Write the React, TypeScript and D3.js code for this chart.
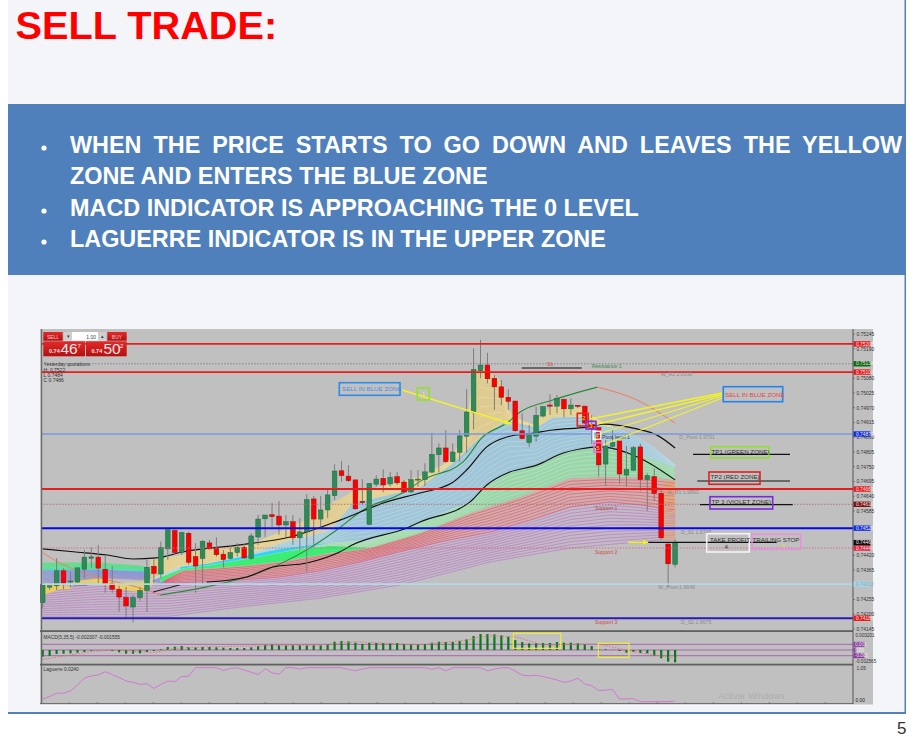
import React from "react";
import * as d3 from "d3";

// ---------- candles (prices in points, 1e-5) ----------
const high = [74316,74310,74409,74372,74359,74374,74440,74449,74459,74421,74380,74306,74301,74272,74301,74403,74405,74471,74515,74517,74508,74508,74465,74477,74477,74487,74440,74459,74465,74462,74502,74571,74570,74615,74622,74570,74570,74559,74648,74641,74641,74663,74759,74771,74756,74701,74703,74688,74719,74740,74731,74731,74701,74738,74738,74763,74877,74837,74887,74837,74887,75039,75192,75223,75175,75092,75073,75039,74995,74949,74906,74974,74974,75020,75018,75005,75005,74980,74976,74943,74896,74850,74887,74846,74827,74827,74836,74726,74744,74670,74462,74479];
const low = [74222,74291,74291,74293,74301,74316,74334,74372,74316,74280,74280,74209,74185,74170,74250,74209,74310,74334,74403,74421,74421,74384,74280,74310,74440,74415,74374,74405,74415,74408,74403,74459,74488,74526,74496,74488,74459,74440,74358,74447,74526,74559,74626,74694,74694,74589,74607,74533,74676,74655,74676,74682,74651,74651,74676,74678,74726,74728,74765,74767,74769,74802,74890,75080,75061,74962,74980,74962,74881,74852,74823,74843,74934,74943,74949,74934,74943,74968,74909,74835,74713,74679,74819,74686,74676,74734,74660,74585,74622,74477,74302,74375];
const open = [74243,74301,74306,74362,74320,74320,74368,74409,74413,74368,74316,74293,74263,74227,74262,74289,74379,74350,74444,74512,74431,74502,74415,74408,74466,74445,74424,74408,74430,74450,74408,74488,74556,74571,74566,74533,74545,74485,74507,74630,74555,74589,74642,74735,74715,74701,74621,74535,74685,74707,74686,74713,74693,74656,74702,74702,74730,74795,74820,74769,74804,74864,74954,75108,75129,75080,75048,75009,74995,74884,74840,74864,74939,74980,74976,75001,74966,74979,74976,74908,74896,74760,74826,74846,74719,74737,74824,74702,74713,74651,74462,74386];
const close = [74310,74306,74362,74316,74324,74373,74413,74414,74372,74312,74293,74264,74231,74262,74289,74375,74352,74449,74515,74430,74505,74394,74380,74472,74444,74422,74404,74430,74450,74410,74492,74555,74570,74564,74533,74545,74485,74507,74627,74555,74589,74645,74734,74717,74698,74593,74616,74688,74704,74682,74711,74690,74656,74702,74704,74731,74796,74820,74769,74805,74865,74954,75113,75129,75078,75048,75009,74994,74884,74855,74871,74942,74974,74976,75005,74966,74980,74975,74913,74891,74757,74827,74841,74723,74740,74821,74702,74717,74651,74485,74388,74468];

// ---------- MACD (1e-3) and Laguerre ----------
const macdHist = [-1.17,-1.05,-0.7,-0.64,-0.58,-0.47,-0.35,-0.12,-0.03,-0.03,-0.18,-0.41,-0.64,-0.64,-0.58,-0.35,-0.18,0.12,0.53,0.58,0.7,0.53,0.47,0.53,0.53,0.47,0.41,0.35,0.35,0.35,0.47,0.7,0.88,0.94,0.88,0.82,0.82,0.88,0.82,0.82,0.82,1.0,1.46,1.58,1.52,1.29,1.05,1.23,1.23,1.23,1.23,1.23,1.05,1.05,0.94,1.05,1.29,1.46,1.4,1.4,1.58,1.87,2.46,2.81,2.81,2.75,2.57,2.34,1.75,1.4,1.17,1.17,1.23,1.23,1.4,1.29,1.29,1.17,0.99,0.7,0.12,0.12,0.03,-0.18,-0.47,-0.35,-0.53,-0.58,-0.99,-1.46,-2.05,-2.16];
const signalBars = [0,7,10,16,19,24,40,45,54,61,64,68,72,76,80,85,91];
const signalVals = [-1.64,-0.3,0,-0.45,0.3,0.6,0.88,1.46,0.88,1.75,2.5,2.34,0.88,1.0,1.05,-0.29,-1.46];
const laguerre = [0.08,0.15,0.25,0.25,0.32,0.49,0.69,0.76,0.79,0.88,0.8,0.71,0.61,0.57,0.51,0.53,0.39,0.51,0.61,0.59,0.74,0.75,1,1,1,1,0.92,0.98,1,0.93,0.87,0.8,0.97,0.85,0.81,1,1,0.96,1,1,1,1,1,1,0.95,0.91,0.96,1,1,1,1,1,1,1,1,1,0.95,1,0.91,1,1,1,1,1,0.91,0.96,1,1,0.9,0.78,0.76,0.78,0.74,0.69,0.64,0.57,0.61,0.69,0.52,0.47,0.33,0.34,0.36,0.08,0.08,0.09,0,0,0,0,0,0.02];

// ---------- ribbon boundaries: [bar, price] ----------
type K = [number, number];
const violetBottom: K[] = [[0,74190],[12.6,74190],[18.3,74193],[28.4,74227],[39.9,74260],[51.4,74309],[64.4,74395],[75.9,74447],[88.8,74477],[91,74477]];
const violetTop: K[] = [[0,74291],[8.2,74313],[19.8,74317],[28.4,74328],[34.1,74339],[39.9,74362],[45.7,74395],[51.4,74433],[57.2,74470],[64.4,74507],[70.1,74551],[75.9,74600],[81.6,74619],[85.9,74608],[91,74589]];
const redTop: K[] = [[16.9,74320],[20.2,74365],[24.1,74372],[29.9,74384],[34.6,74398],[41.3,74429],[47,74447],[54.3,74503],[61.5,74578],[68.7,74638],[75.9,74708],[80.2,74712],[87.4,74712],[91,74701]];
const greenTopLeft: K[] = [[0,74391],[8.2,74391],[14,74380],[17.6,74357]];
const greenBotLeft: K[] = [[0,74365],[8.2,74369],[14,74362],[17.6,74347]];
const greenTop: K[] = [[15.5,74325],[20.2,74372],[24.1,74384],[29.9,74410],[34.6,74433],[41.3,74466],[47,74477],[54.3,74544],[61.5,74619],[63.9,74682],[67.2,74730],[71.1,74756],[74.9,74801],[77.3,74816],[80.2,74824],[85.9,74794],[91,74749]];
const brightGreenTop: K[] = [[15.5,74325],[20.2,74372],[24.1,74384],[29.9,74410],[34.6,74433],[41.3,74455],[47,74447]];
const blueTopLeft: K[] = [[0,74365],[8.2,74365],[15.4,74357],[17.6,74347]];
const blueBotLeft: K[] = [[0,74310],[8.2,74336],[15.4,74328],[17.6,74310]];
const blueTop: K[] = [[15.5,74330],[19.8,74380],[24.1,74391],[29.9,74429],[34.6,74470],[41.3,74514],[44.6,74615],[50,74648],[54.3,74675],[59,74764],[62.9,74861],[66.8,74924],[71.1,74898],[73.4,74935],[78.3,74939],[80.2,74906],[82,74898],[85.5,74861],[87.8,74824],[91,74756]];
const cyanTop: K[] = [[19.8,74376],[24.1,74391],[29.9,74420],[34.6,74445],[41.3,74466]];
const yellowTop: K[] = [[15.5,74402],[19.8,74418],[21.7,74433],[29.9,74459],[31,74470],[38,74551],[40.9,74600],[44.6,74656],[47.1,74663],[54.3,74712],[58.2,74764],[61,74876],[61.9,75085],[62.9,75122],[65.8,75073],[67.2,74950],[68.7,74924],[70.5,74906],[73.4,74980],[77.7,74969],[79.2,74935],[82,74898]];
const yellowLowTop: K[] = [[0,74310],[2.5,74306],[4.2,74299]];
const yellowLowBot: K[] = [[0,74272],[2.5,74295],[4.2,74295]];
const yellowMidTop: K[] = [[4.5,74317],[6,74343],[7.8,74336],[11.1,74317],[14.4,74320],[16,74347]];
const yellowMidBot: K[] = [[4.5,74313],[6,74317],[7.8,74317],[11.1,74294],[14.4,74283],[16,74313]];

// ---------- moving-average lines: [bar, price] ----------
const maFastUp: K[] = [[16.9,74272],[23.6,74302],[30.3,74347],[38,74440],[42.3,74514],[46.1,74589],[51.8,74652],[54.7,74701],[60.5,74768],[63.3,74861],[66.8,74913],[68.7,74954],[73.4,74999],[79.8,75047]];
const maFastDownLeft: K[] = [[0,74429],[2.5,74391],[7.8,74339],[14,74298],[16.9,74272]];
const maFastDownRight: K[] = [[79.8,75047],[85.5,74999],[91,74913]];
const maMid: K[] = [[0,74444],[4.4,74433],[9.3,74421],[13,74406],[16.4,74410],[20.2,74433],[28.4,74459],[35.6,74488],[42.8,74551],[49.5,74619],[54.3,74652],[58.9,74690],[61,74738],[63.9,74824],[66.8,74861],[70.5,74875],[73.4,74887],[78.3,74898],[80.6,74909],[85.5,74891],[88.4,74868],[91,74820]];
const maSlow1: K[] = [[4.4,74310],[6.4,74310]];
const maSlow2: K[] = [[15.9,74283],[19.8,74310]];
const maSlow3: K[] = [[23.6,74320],[29.4,74339],[33.1,74376],[38,74391],[42.8,74433],[44.6,74459],[52.4,74522],[54.3,74544],[61.5,74619],[63.9,74682],[67.2,74730],[71.1,74756],[74.9,74801],[77.3,74816],[80.2,74824],[85.9,74783],[91,74701]];

// ---------- levels and axis labels ----------
const levelPrices = { red1: 75208, dot1: 75134, red2: 75103, pivot: 74872, red3: 74667, dot2: 74610, blue1: 74521, dot3: 74447, sky: 74312, blue2: 74185 };
const axisTicks = [75245,75190,75080,75025,74970,74915,74860,74805,74750,74695,74640,74585,74420,74365,74255,74200,74145];
const badgeLabels = ["0.75208","0.75134","0.75103","0.74872","0.74667","0.74610","0.74521","0.74447","0.74312","0.74185","0.74467"];
const badgeValues = [75208,75134,75103,74872,74667,74610,74521,74447,74312,74185,74467];
const badgeColors = ["#e81818","#0e6a10","#e81818","#1030e0","#e81818","#7a1010","#1030e0","#e82040","#a8d4e4","#e81818","#101010"];
const bullets = [
  "WHEN THE PRICE STARTS TO GO DOWN AND LEAVES THE YELLOW",
  "ZONE AND ENTERS THE BLUE ZONE",
  "MACD INDICATOR IS APPROACHING THE 0 LEVEL",
  "LAGUERRE INDICATOR IS IN THE UPPER ZONE",
];
const bulletHasDot = [true, false, true, true];

const SANS = "'Liberation Sans', Arial, sans-serif";
const x = d3.scaleLinear().domain([0, 91]).range([42.7, 675.1]);
const y = d3.scaleLinear().domain([74145, 75245]).range([629, 334]);
const yM = d3.scaleLinear().domain([-2.565, 3.201]).range([664.6, 631.8]);
const yL = d3.scaleLinear().domain([0, 1]).range([701.7, 667.7]);

const knotLine = d3.line<K>().x((d) => x(d[0])).y((d) => y(d[1])).curve(d3.curveMonotoneX);
const interp = (k: K[]) => d3.scaleLinear().domain(k.map((d) => d[0])).range(k.map((d) => d[1])).clamp(true);

function Band({ top, bot, n, c0, c1, fill, fo, to, sw = 0.8, so = 0.85 }: { top: K[]; bot: K[]; n: number; c0: string; c1: string; fill: string; fo: number; to?: number; sw?: number; so?: number }) {
  const t = interp(top), b = interp(bot);
  const a = Math.max(top[0][0], bot[0][0]);
  const e = Math.min(top[top.length - 1][0], bot[bot.length - 1][0], to ?? 1e9);
  const xs = d3.range(a, e + 0.001, 0.5);
  const area = d3.area<number>().x((d) => x(d)).y0((d) => y(b(d))).y1((d) => y(t(d))).curve(d3.curveMonotoneX);
  const col = d3.interpolateRgb(c0, c1);
  return (
    <g>
      <path d={area(xs) || ""} fill={fill} fillOpacity={fo} />
      {d3.range(n).map((i) => {
        const f = n > 1 ? i / (n - 1) : 0;
        const ln = d3.line<number>().x((d) => x(d)).y((d) => y(t(d) * (1 - f) + b(d) * f)).curve(d3.curveMonotoneX);
        return <path key={i} d={ln(xs) || ""} fill="none" stroke={col(f)} strokeWidth={sw} strokeOpacity={so} />;
      })}
    </g>
  );
}

function Note({ tx, ty, s, size = 5.2, fill = "#8c8c8c", anchor = "start", weight = 400 }: any) {
  return <text x={tx} y={ty} fontSize={size} fill={fill} textAnchor={anchor} fontWeight={weight} fontFamily={SANS}>{s}</text>;
}

function Box({ bx, by, bw, bh, stroke, sw = 1.6 }: any) {
  return <rect x={bx} y={by} width={bw} height={bh} fill="none" stroke={stroke} strokeWidth={sw} />;
}

function App() {
  const bw = 4.7;
  const hatchYs = d3.range(482, 541, 2.4);
  const axisLbl = (v: number) => "0." + v;
  const lineSeg = d3.line<number>().x((_, i) => x(i)).y((d) => yL(d)).curve(d3.curveLinear);
  const sigLine = d3.line<number>().x((_, i) => x(signalBars[i])).y((d) => yM(d));
  return (
    <svg width={913} height={737} viewBox="0 0 913 737" style={{ position: "absolute", left: 0, top: 0, display: "block" }}>
      <defs>
        <clipPath id="hatch"><rect x={663} y={470} width={12.5} height={72} /></clipPath>
        <linearGradient id="btn" x1="0" x2="0" y1="0" y2="1">
          <stop offset="0" stopColor="#e22a2a" />
          <stop offset="1" stopColor="#b50f0f" />
        </linearGradient>
      </defs>
      <rect x={0} y={0} width={913} height={737} fill="#ffffff" />
      <rect x={8} y={0} width={897} height={713} fill="#f4f5f8" />
      <rect x={904.5} y={0} width={1.5} height={713} fill="#4f81bd" />
      <rect x={8} y={712} width={898} height={2} fill="#4f81bd" />

      <text x={15.5} y={39.3} fontSize={39.7} fontWeight={700} fill="#fe0000" fontFamily={SANS}>SELL TRADE:</text>

      <rect x={8} y={104} width={897} height={171} fill="#4f80bb" />
      {bullets.map((b, i) => (
        <g key={i}>
          {bulletHasDot[i] && <circle cx={44} cy={[148, 0, 211, 242][i]} r={2.6} fill="#fff" />}
          <text x={70} y={[153, 184, 216, 247][i]} fontSize={23.4} fontWeight={700} fill="#fff" fontFamily={SANS}
            wordSpacing={i === 0 ? 5.5 : 0}>{b}</text>
        </g>
      ))}

      {/* chart frame */}
      <rect x={40} y={329} width={833} height={375.5} fill="#c0c0c0" />

      {/* ribbons */}
      <Band top={violetTop} bot={violetBottom} n={14} c0="#c070c4" c1="#b478c8" fill="#c8a8d0" fo={0.25} sw={0.8} so={0.8} />
      <Band top={redTop} bot={violetTop} n={10} c0="#d85858" c1="#d86080" fill="#dea0a0" fo={0.6} />
      <Band top={yellowLowTop} bot={yellowLowBot} n={5} c0="#f0d050" c1="#f0d050" fill="#ecd35a" fo={0.9} />
      <Band top={yellowMidTop} bot={yellowMidBot} n={5} c0="#f0d050" c1="#f0d060" fill="#ecd35a" fo={0.9} />
      <Band top={blueTopLeft} bot={blueBotLeft} n={13} c0="#7890e0" c1="#9a90c8" fill="#9aa8d0" fo={0.5} />
      <Band top={greenTopLeft} bot={greenBotLeft} n={6} c0="#50e070" c1="#30e8b0" fill="#70e090" fo={0.7} />
      <Band top={greenTop} bot={redTop} n={8} c0="#c2e8c8" c1="#b4e4bc" fill="#96d8a6" fo={0.9} />
      <Band top={brightGreenTop} bot={redTop} n={0} c0="#000" c1="#000" fill="#28f068" fo={0.85} />
      <Band top={blueTop} bot={greenTop} n={11} c0="#c0dce6" c1="#b6d6e2" fill="#9cc6da" fo={0.9} />
      <Band top={cyanTop} bot={greenTop} n={0} c0="#000" c1="#000" fill="#10d8f4" fo={0.85} />
      <Band top={yellowTop} bot={blueTop} n={8} c0="#efdc9c" c1="#efdc9c" fill="#e2cd8a" fo={0.85} />

      {/* orange end hatch */}
      <g clipPath="url(#hatch)">
        {hatchYs.map((h) => <line key={h} x1={663} x2={676} y1={h} y2={h} stroke="#eda050" strokeWidth={0.9} />)}
      </g>

      {/* moving averages */}
      <path d={knotLine(maFastDownLeft) || ""} fill="none" stroke="#ee8066" strokeWidth={1} />
      <path d={knotLine(maFastUp) || ""} fill="none" stroke="#2a8a3a" strokeWidth={1.1} />
      <path d={knotLine(maFastDownRight) || ""} fill="none" stroke="#ee7a62" strokeWidth={1} />
      <path d={knotLine(maMid) || ""} fill="none" stroke="#111" strokeWidth={1.2} />
      <path d={knotLine(maSlow1) || ""} fill="none" stroke="#222" strokeWidth={1} />
      <path d={knotLine(maSlow2) || ""} fill="none" stroke="#222" strokeWidth={1.1} />
      <path d={knotLine(maSlow3) || ""} fill="none" stroke="#111" strokeWidth={1.1} />

      {/* candles */}
      {high.map((h, i) => {
        const up = close[i] >= open[i];
        const t = y(Math.max(open[i], close[i]));
        const b = y(Math.min(open[i], close[i]));
        return (
          <g key={i}>
            <line x1={x(i)} x2={x(i)} y1={y(h)} y2={y(low[i])} stroke="#7d7d7d" strokeWidth={1} />
            <rect x={x(i) - bw / 2} y={t} width={bw} height={Math.max(b - t, 1)} fill={up ? "#2e8b57" : "#fa0000"} stroke={up ? "#1e6a42" : "#9a1010"} strokeWidth={0.5} />
          </g>
        );
      })}

      {/* horizontal levels */}
      <line x1={41} x2={853} y1={y(levelPrices.red1)} y2={y(levelPrices.red1)} stroke="#e81c1c" strokeWidth={1.9} />
      <line x1={41} x2={853} y1={y(levelPrices.dot1)} y2={y(levelPrices.dot1)} stroke="#777" strokeWidth={0.8} strokeDasharray="1.5 1.5" />
      <line x1={41} x2={853} y1={y(levelPrices.red2)} y2={y(levelPrices.red2)} stroke="#e81c1c" strokeWidth={1.9} />
      <line x1={41} x2={853} y1={y(levelPrices.pivot)} y2={y(levelPrices.pivot)} stroke="#7a9ae0" strokeWidth={1.6} />
      <line x1={41} x2={853} y1={y(levelPrices.red3)} y2={y(levelPrices.red3)} stroke="#e81c1c" strokeWidth={1.9} />
      <line x1={41} x2={853} y1={y(levelPrices.dot2)} y2={y(levelPrices.dot2)} stroke="#b06a6a" strokeWidth={0.9} strokeDasharray="1.5 1.5" />
      <line x1={41} x2={853} y1={y(levelPrices.blue1)} y2={y(levelPrices.blue1)} stroke="#0808e0" strokeWidth={2} />
      <line x1={41} x2={853} y1={y(levelPrices.dot3)} y2={y(levelPrices.dot3)} stroke="#d86a80" strokeWidth={0.9} strokeDasharray="1.5 1.5" />
      <line x1={41} x2={853} y1={y(levelPrices.sky)} y2={y(levelPrices.sky)} stroke="#b4d8e8" strokeWidth={1.8} />
      <line x1={41} x2={853} y1={y(levelPrices.blue2)} y2={y(levelPrices.blue2)} stroke="#1c1cc8" strokeWidth={2} />
      <line x1={41} x2={853} y1={y(levelPrices.blue2)} y2={y(levelPrices.blue2)} stroke="#8a2030" strokeWidth={0.6} strokeDasharray="1 1.5" />

      {/* chart text notes */}
      <Note tx={43.5} ty={366} s="Yesterday quotations" fill="#333" size={5} />
      <Note tx={43.5} ty={371.5} s="H: 0.7522" fill="#333" size={5} />
      <Note tx={43.5} ty={377} s="L 0.7484" fill="#333" size={5} />
      <Note tx={43.5} ty={382} s="C 0.7486" fill="#333" size={5} />
      <Note tx={591.7} ty={368} s="Resistance 1" fill="#3f8a4c" />
      <Note tx={547} ty={366} s="Sb" fill="#d05050" />
      <Note tx={660.7} ty={376} s="W_R2 2.0190" />
      <Note tx={679.3} ty={439} s="D_Pivot 1.9791" />
      <Note tx={602} ty={439} s="Pivot level 1" fill="#334" />
      <Note tx={668} ty={494} s="D_R1 1.9893" />
      <Note tx={595} ty={510} s="Support 1" fill="#b04848" />
      <Note tx={681} ty={533.5} s="D_S1 1.9745" />
      <Note tx={595} ty={553.5} s="Support 2" fill="#d04848" />
      <Note tx={658.3} ty={589} s="W_Pivot 1.9649" />
      <Note tx={595} ty={624} s="Support 3" fill="#d04848" />
      <Note tx={681} ty={624} s="D_S2 1.9675" />

      {/* black segments */}
      <line x1={521.7} x2={581.7} y1={368} y2={368} stroke="#111" strokeWidth={1.2} />
      <line x1={693} x2={790} y1={454.3} y2={454.3} stroke="#111" strokeWidth={1.2} />
      <line x1={697.3} x2={790} y1={481} y2={481} stroke="#111" strokeWidth={1.2} />
      <line x1={700} x2={792.7} y1={504.7} y2={504.7} stroke="#111" strokeWidth={1.2} />
      <line x1={648.3} x2={776.7} y1={542.3} y2={542.3} stroke="#111" strokeWidth={1.3} />
      <line x1={628} x2={648} y1={542.3} y2={542.3} stroke="#f4f40a" strokeWidth={1.4} />
      <path d="M643 539.8 L648 542.3 L643 544.8 Z" fill="#f4f40a" />

      {/* yellow call-out lines */}
      <line x1={402} y1={390} x2={511.7} y2={424} stroke="#f2f22a" strokeWidth={1.4} />
      <path d="M505 419.5 L512 424 L504 424.5 Z" fill="#f2f22a" />
      <line x1={722} y1={393} x2={590} y2={419} stroke="#f2f22a" strokeWidth={1.3} />
      <line x1={722} y1={394.5} x2={596} y2={424.5} stroke="#f2f22a" strokeWidth={1.3} />
      <line x1={722} y1={396} x2={601} y2={433} stroke="#f2f22a" strokeWidth={1.3} />
      <line x1={722} y1={398} x2={603} y2={445} stroke="#f2f22a" strokeWidth={1.3} />

      {/* annotation boxes */}
      <Box bx={339.3} by={382.7} bw={60.7} bh={12.6} stroke="#2f8ae8" />
      <Note tx={342} ty={391.3} s="SELL IN BLUE ZONE" fill="#4f8fe0" size={6.2} />
      <Box bx={417.3} by={388} bw={12} bh={12} stroke="#8fe030" />
      <Note tx={423.3} ty={396} s="1" fill="#eef040" size={6} anchor="middle" />
      <Box bx={723.3} by={386.7} bw={59.4} bh={15} stroke="#1f85f0" />
      <Note tx={725} ty={396.5} s="SELL IN BLUE ZONE" fill="#e64646" size={6.2} />

      <Box bx={577.3} by={413.3} bw={11} bh={12.7} stroke="#e82020" />
      <Box bx={586} by={421.3} bw={10} bh={7.7} stroke="#8a2ad0" />
      <Box bx={593.3} by={431.3} bw={7.4} bh={8} stroke="#f4f4f4" />
      <Box bx={594} by={442.7} bw={7.7} bh={9.3} stroke="#ea70d0" />
      <Note tx={584} ty={420} s="2" fill="#f0e040" size={6} anchor="middle" />
      <Note tx={591} ty={427.5} s="3" fill="#f0e040" size={6} anchor="middle" />
      <Note tx={597.2} ty={437.5} s="4" fill="#f0e040" size={6} anchor="middle" />
      <Note tx={598} ty={449.5} s="5" fill="#f0e040" size={6} anchor="middle" />

      <Box bx={710.7} by={446.7} bw={58} bh={11.3} stroke="#8fe030" />
      <Note tx={711.5} ty={453.5} s="TP1 (GREEN ZONE)" fill="#333" size={6.2} />
      <Box bx={709} by={472} bw={51} bh={12.3} stroke="#e02020" />
      <Note tx={710.5} ty={479} s="TP2 (RED ZONE)" fill="#333" size={6.2} />
      <Box bx={710} by={496.7} bw={62.7} bh={12.3} stroke="#7a2ad8" />
      <Note tx={711.5} ty={504} s="TP 3 (VIOLET ZONE)" fill="#333" size={6.2} />

      <Box bx={706.7} by={533.7} bw={42.6} bh={18.3} stroke="#f4f4f4" />
      <Note tx={710} ty={541.5} s="TAKE PROFIT" fill="#333" size={6.2} />
      <Note tx={724.5} ty={549} s="4" fill="#333" size={6.2} />
      <Box bx={752} by={534.3} bw={48.7} bh={15} stroke="#e890e0" />
      <Note tx={752.5} ty={541.5} s="TRAILING STOP" fill="#333" size={6.2} />
      <Note tx={781.5} ty={547.5} s="5" fill="#eed040" size={6} />

      {/* separators */}
      <rect x={40} y={630.2} width={813} height={1.8} fill="#606060" />
      <rect x={40} y={663.7} width={813} height={1.8} fill="#606060" />
      <rect x={40} y={703} width={813} height={1} fill="#707070" />
      {d3.range(69.3, 853, 28).map((tx) => <line key={tx} x1={tx} x2={tx} y1={702} y2={704} stroke="#666" strokeWidth={0.7} />)}

      {/* MACD */}
      {[1, 0, -1].map((l) => <line key={l} x1={41} x2={853} y1={yM(l)} y2={yM(l)} stroke="#a858b0" strokeWidth={0.9} />)}
      {macdHist.map((v, i) => (
        <rect key={i} x={x(i) - 1.1} y={Math.min(yM(v), yM(0))} width={2.2} height={Math.abs(yM(v) - yM(0))} fill="#0a7a18" />
      ))}
      <path d={sigLine(signalVals) || ""} fill="none" stroke="#e0706c" strokeWidth={0.9} strokeDasharray="1.5 1.5" />
      <Note tx={43.5} ty={638.5} s="MACD(5,35,5) -0.002307 -0.001555" fill="#333" size={4.8} />
      <Box bx={513.3} by={633.3} bw={47.4} bh={15} stroke="#eeee30" sw={1.2} />
      <Box bx={598.3} by={643.3} bw={30.7} bh={14} stroke="#eeee30" sw={1.2} />

      {/* Laguerre */}
      <path d={lineSeg(laguerre) || ""} fill="none" stroke="#d070d0" strokeWidth={0.9} />
      <Note tx={43.5} ty={671} s="Laguerre 0.0240" fill="#333" size={4.8} />
      <text x={718} y={699} fontSize={9} fill="#afafaf" fontFamily={SANS}>Activar Windows</text>

      {/* right axis */}
      <rect x={852.5} y={329} width={1} height={375} fill="#555" />
      {axisTicks.map((t) => (
        <g key={t}>
          <line x1={853} x2={855} y1={y(t)} y2={y(t)} stroke="#555" strokeWidth={0.6} />
          <text x={856.5} y={y(t) + 1.8} fontSize={4.9} fill="#333" fontFamily={SANS}>{axisLbl(t)}</text>
        </g>
      ))}
      {badgeValues.map((v, i) => (
        <g key={v}>
          <rect x={853.5} y={y(v) - 2.7} width={17} height={5.4} fill={badgeColors[i]} />
          <text x={856} y={y(v) + 1.7} fontSize={4.9} fill={i === 8 ? "#8ab" : "#f0e8e8"} fontFamily={SANS}>{badgeLabels[i]}</text>
        </g>
      ))}
      {[["0.001", 1, 0], ["0.00", 0, 1], ["-0.001", -1, 0]].map(([s, l], i) => (
        <g key={i}>
          <rect x={853.5} y={yM(l as number) - 2.5} width={i === 1 ? 3 : 11} height={5} fill="#8a3aa0" />
          <text x={855} y={yM(l as number) + 1.7} fontSize={4.6} fill="#eee" fontFamily={SANS}>{s as string}</text>
        </g>
      ))}
      <Note tx={855.5} ty={636.5} s="0.003201" fill="#333" size={4.6} />
      <Note tx={855.5} ty={662.5} s="-0.002565" fill="#333" size={4.6} />
      <Note tx={856.5} ty={670} s="1.05" fill="#333" size={4.8} />
      <Note tx={855.5} ty={702} s="0.00" fill="#222" size={4.8} />

      {/* trade panel */}
      <rect x={43.3} y={332} width={19.4} height={8.7} fill="url(#btn)" />
      <Note tx={53} ty={338.5} s="SELL" fill="#f4c8c8" size={5} anchor="middle" />
      <rect x={64} y={332} width={42} height={8.7} fill="#fff" />
      <rect x={64} y={332} width={8} height={8.7} fill="#cfcfcf" />
      <rect x={98} y={332} width={8} height={8.7} fill="#cfcfcf" />
      <Note tx={68} ty={338.2} s="▾" fill="#333" size={5} anchor="middle" />
      <Note tx={102} ty={338.2} s="▴" fill="#333" size={5} anchor="middle" />
      <Note tx={96} ty={338.5} s="1.00" fill="#444" size={5} anchor="end" />
      <rect x={107.3} y={332} width={19.4} height={8.7} fill="url(#btn)" />
      <Note tx={117} ty={338.5} s="BUY" fill="#f4c8c8" size={5} anchor="middle" />
      <rect x={43.3} y={341.3} width={41.7} height={15} fill="url(#btn)" />
      <rect x={86} y={341.3} width={40.7} height={15} fill="url(#btn)" />
      <Note tx={49} ty={353} s="0.74" fill="#f6e6e6" size={5.5} weight={700} />
      <Note tx={60.5} ty={354} s="46" fill="#f6eaea" size={15.5} />
      <Note tx={77.5} ty={347.5} s="7" fill="#f6eaea" size={6} />
      <Note tx={91.5} ty={353} s="0.74" fill="#f6e6e6" size={5.5} weight={700} />
      <Note tx={103.5} ty={354} s="50" fill="#f6eaea" size={15.5} />
      <Note tx={120} ty={347.5} s="2" fill="#f6eaea" size={6} />

      {/* left axis */}
      <rect x={41} y={329} width={1.2} height={375} fill="#6a6a6a" />

      <text x={897} y={733.5} fontSize={17} fill="#333" fontFamily={SANS}>5</text>
    </svg>
  );
}

export default App;
